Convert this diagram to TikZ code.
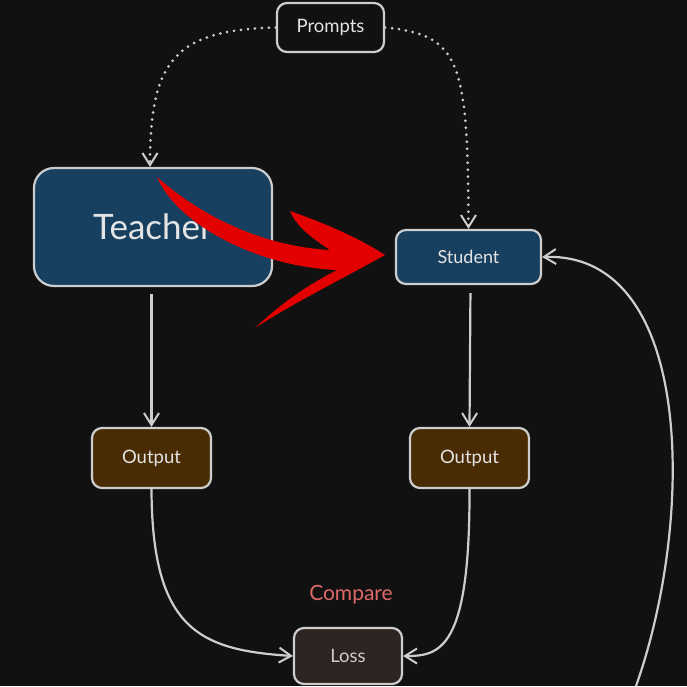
\documentclass[tikz,border=0pt]{standalone}
\usepackage{fontspec}
\setmainfont{Lato}
\usetikzlibrary{arrows.meta,positioning}

\definecolor{canvas}{RGB}{17,17,17}
\definecolor{edge}{RGB}{205,205,205}
\definecolor{ink}{RGB}{228,228,228}
\definecolor{netblue}{RGB}{23,64,96}
\definecolor{outbrown}{RGB}{74,44,4}
\definecolor{lossgray}{RGB}{45,35,33}
\definecolor{comparered}{RGB}{224,104,104}
\definecolor{markred}{RGB}{226,0,0}

\begin{document}
\begin{tikzpicture}[x=1pt,y=-1pt,
    box/.style={draw=edge, line width=2.2pt, rounded corners=10pt, text=ink, inner sep=0pt},
    link/.style={draw=edge, line width=2.2pt, -{Straight Barb[length=12pt,width=15pt,line width=2pt]}},
    feed/.style={link, line width=3pt, dash pattern=on 0pt off 7pt, line cap=round}]
    % canvas
    \fill[canvas] (0,0) rectangle (687,686);
    \useasboundingbox (0,0) rectangle (687,686);
    % models
    \node[box, fill=canvas, minimum width=107pt, minimum height=49pt, font=\fontsize{18.5}{22}\selectfont] (prompts) at (330.5,27.5) {Prompts};
    \node[box, fill=netblue, rounded corners=20pt, minimum width=238pt, minimum height=118pt, font=\fontsize{35}{40}\selectfont] (teacher) at (153,227) {Teacher};
    \node[box, fill=netblue, minimum width=145pt, minimum height=54pt, font=\fontsize{18}{21}\selectfont] (student) at (468.5,257) {Student};
    % outputs and loss
    \node[box, fill=outbrown, minimum width=119pt, minimum height=60pt, font=\fontsize{18.5}{22}\selectfont] (outteacher) at (151.5,458) {Output};
    \node[box, fill=outbrown, minimum width=119pt, minimum height=60pt, font=\fontsize{18.5}{22}\selectfont] (outstudent) at (469.5,458) {Output};
    \node[box, fill=lossgray, text=edge, minimum width=108pt, minimum height=56pt, font=\fontsize{18.5}{22}\selectfont] (loss) at (348,656) {Loss};
    \node[text=comparered, font=\fontsize{21}{25}\selectfont] (compare) at (351,595) {Compare};
    \coordinate (loopend) at (636,686);
    % prompts feed both models
    \draw[feed] (prompts.west) .. controls (175,30) and (150,60) .. ([xshift=-3pt]teacher.north);
    \draw[feed] (prompts.east) .. controls (460,35) and (468,60) .. (student.north);
    % forward passes
    \draw[link, shorten <=7pt] (teacher.south -| outteacher.north) -- (outteacher.north);
    \draw[link, shorten <=8pt] ([xshift=2pt]student.south) -- (outstudent.north);
    % compare outputs
    \draw[link] (outteacher.south) .. controls (152,630) and (200,650) .. (loss.west);
    \draw[link] (outstudent.south) .. controls (470,650) and (440,656) .. (loss.east);
    % update student
    \draw[link] (loopend) .. controls (695,520) and (695,252) .. (student.east);
    % red mark: teacher to student
    \fill[markred] (157,177) .. controls (200,215) and (260,246) .. (330,250)
      .. controls (315,240) and (297,228) .. (290,211)
      .. controls (330,225) and (362,240) .. (385,255)
      .. controls (340,280) and (290,305) .. (255,328)
      .. controls (285,300) and (310,284) .. (337,270)
      .. controls (260,267) and (178,226) .. (157,177) -- cycle;
\end{tikzpicture}
\end{document}
